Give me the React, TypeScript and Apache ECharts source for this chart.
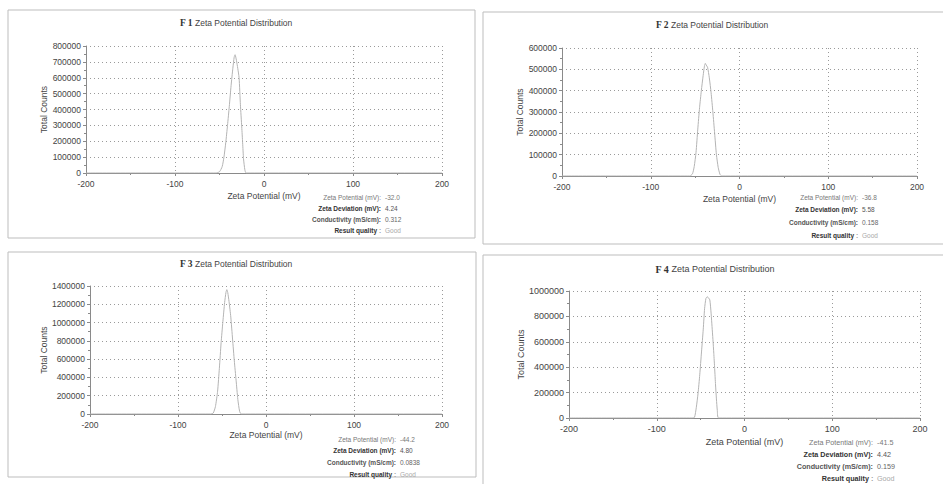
import React, { useEffect, useRef } from "react";
import * as echarts from "echarts";

// ---- data (mV vs. total counts) ----
const zetaF1 = [-200, -54, -50, -47, -45, -43, -41, -39, -37, -35, -33.5, -32.5, -31, -29.5, -28, -26.5, -25, -24, -23, -21.5, -20, 200];
const countsF1 = [0, 0, 8000, 40000, 100000, 190000, 300000, 420000, 550000, 660000, 730000, 745000, 710000, 660000, 600000, 430000, 290000, 190000, 90000, 20000, 0, 0];

const zetaF2 = [-200, -56, -53, -51, -49, -47, -45, -43, -41, -39.5, -38.5, -37.5, -36, -34, -32, -30, -28, -26, -24, -22, -20, 200];
const countsF2 = [0, 0, 10000, 45000, 110000, 220000, 320000, 400000, 470000, 515000, 528000, 520000, 510000, 460000, 390000, 300000, 200000, 100000, 40000, 8000, 0, 0];

const zetaF3 = [-200, -63, -60, -57.5, -55, -53, -51, -49, -47, -45.5, -44.5, -43.5, -42, -40, -38, -36, -34, -32, -30, -28, 200];
const countsF3 = [0, 0, 10000, 80000, 250000, 500000, 780000, 1010000, 1220000, 1330000, 1360000, 1330000, 1230000, 1060000, 820000, 580000, 370000, 160000, 30000, 0, 0];

const zetaF4 = [-200, -60, -57, -55, -53, -51, -49, -47, -45.5, -44, -42.5, -41, -39.5, -38, -37, -36, -35, -34, -33, -32, -31, -29.5, 200];
const countsF4 = [0, 0, 5000, 80000, 190000, 340000, 520000, 700000, 860000, 940000, 955000, 945000, 930000, 820000, 720000, 620000, 510000, 390000, 260000, 150000, 60000, 0, 0];

const panelNames = ["F 1", "F 2", "F 3", "F 4"];
const yMaxes = [800000, 600000, 1400000, 1000000];
const yIntervals = [100000, 100000, 200000, 200000];
const xTicks = { min: -200, max: 200, interval: 100 };

const statLabels = ["Zeta Potential (mV):", "Zeta Deviation (mV):", "Conductivity (mS/cm):", "Result quality"];
const statsF1 = ["-32.0", "4.24", "0.312", "Good"];
const statsF2 = ["-36.8", "5.58", "0.158", "Good"];
const statsF3 = ["-44.2", "4.80", "0.0838", "Good"];
const statsF4 = ["-41.5", "4.42", "0.159", "Good"];

const zetas = [zetaF1, zetaF2, zetaF3, zetaF4];
const counts = [countsF1, countsF2, countsF3, countsF4];
const stats = [statsF1, statsF2, statsF3, statsF4];

// ---- layout (positions / sizes) ----
const layout = [
  { grid: { left: 86, top: 46, width: 356, height: 127 }, yGap: 37, xGap: 18, border: [8, 10, 467, 228], title: [236, 23], stat: { end: 381, val: 385, rows: [197, 208, 219, 230], fs: 6.5 }, fs: 8.5 },
  { grid: { left: 562, top: 48, width: 355, height: 128 }, yGap: 36, xGap: 18, border: [483, 12, 470, 232], title: [712, 25], stat: { end: 858, val: 862, rows: [197, 209.5, 222, 235], fs: 6.5 }, fs: 8.5 },
  { grid: { left: 90, top: 286, width: 352, height: 128 }, yGap: 42, xGap: 16, border: [8, 252, 468, 225], title: [236, 264], stat: { end: 396, val: 400, rows: [439, 450.5, 462, 474], fs: 6.5 }, fs: 8.5 },
  { grid: { left: 569, top: 291, width: 351, height: 127 }, yGap: 41, xGap: 19, border: [483, 255, 470, 232], title: [715, 269], stat: { end: 873, val: 877, rows: [442, 454, 466, 478.5], fs: 7.2 }, fs: 9 },
];

const SANS = "'Liberation Sans', Arial, sans-serif";
const SERIF = "'Liberation Serif', 'Times New Roman', serif";
const AXIS = "#8a8a8a";

export default function App() {
  const ref = useRef<HTMLDivElement>(null);
  useEffect(() => {
    if (!ref.current) return;
    const chart = echarts.init(ref.current, undefined, { renderer: "svg" });

    const grids = layout.map((l) => l.grid);
    const xAxes = layout.map((l, i) => ({
      type: "value",
      gridIndex: i,
      min: xTicks.min,
      max: xTicks.max,
      interval: xTicks.interval,
      name: "Zeta Potential (mV)",
      nameLocation: "middle",
      nameGap: l.xGap,
      nameTextStyle: { fontFamily: SANS, fontSize: l.fs, color: "#444" },
      axisLine: { show: true, onZero: false, lineStyle: { color: AXIS, width: 1 } },
      axisTick: { show: true, length: 3, lineStyle: { color: AXIS } },
      minorTick: { show: true, splitNumber: 2, length: 2, lineStyle: { color: AXIS } },
      axisLabel: { fontFamily: SANS, fontSize: l.fs, color: "#444", margin: 6, formatter: (v: number) => String(v) },
      splitLine: { show: true, lineStyle: { color: "#9a9a9a", type: [1, 3], width: 1 } },
    }));
    const yAxes = layout.map((l, i) => ({
      type: "value",
      gridIndex: i,
      min: 0,
      max: yMaxes[i],
      interval: yIntervals[i],
      name: "Total Counts",
      nameLocation: "middle",
      nameGap: l.yGap,
      nameTextStyle: { fontFamily: SANS, fontSize: l.fs, color: "#444" },
      axisLine: { show: true, onZero: false, lineStyle: { color: AXIS, width: 1 } },
      axisTick: { show: true, length: 3, lineStyle: { color: AXIS } },
      minorTick: { show: true, splitNumber: 2, length: 2, lineStyle: { color: AXIS } },
      axisLabel: { fontFamily: SANS, fontSize: l.fs, color: "#444", margin: 5, formatter: (v: number) => String(v) },
      splitLine: { show: true, lineStyle: { color: "#9a9a9a", type: [1, 3], width: 1 } },
    }));
    const series = zetas.map((zs, i) => ({
      type: "line",
      xAxisIndex: i,
      yAxisIndex: i,
      data: zs.map((z, k) => [z, counts[i][k]]),
      showSymbol: false,
      smooth: 0.2,
      lineStyle: { color: "#b4b4b4", width: 1 },
      silent: true,
    }));

    const graphics: any[] = [];
    layout.forEach((l, i) => {
      const [bx, by, bw, bh] = l.border;
      graphics.push({
        type: "rect",
        shape: { x: bx, y: by, width: bw, height: bh },
        style: { fill: "none", stroke: "#bdbdbd", lineWidth: 1 },
        silent: true,
      });
      graphics.push({
        type: "text",
        x: l.title[0],
        y: l.title[1],
        style: {
          text: `{b|${panelNames[i]}} Zeta Potential Distribution`,
          fontFamily: SANS,
          fontSize: l.fs,
          fill: "#444",
          align: "center",
          verticalAlign: "middle",
          rich: {
            b: { fontFamily: SERIF, fontWeight: "bold", fontSize: l.fs + 1, fill: "#333" },
          },
        },
        silent: true,
      });
      const s = l.stat;
      const labelW = ["normal", "bold", "bold", "bold"];
      const labelC = ["#777", "#333", "#555", "#333"];
      const valC = ["#777", "#555", "#666", "#aaa"];
      statLabels.forEach((lab, r) => {
        const last = r === 3;
        graphics.push({
          type: "text",
          x: last ? s.end - 4 : s.end,
          y: s.rows[r],
          style: {
            text: lab,
            fontFamily: SANS,
            fontSize: s.fs,
            fontWeight: labelW[r],
            fill: labelC[r],
            align: "right",
            verticalAlign: "middle",
          },
          silent: true,
        });
        if (last) {
          graphics.push({
            type: "text",
            x: s.end - 2,
            y: s.rows[r],
            style: { text: ":", fontFamily: SANS, fontSize: s.fs, fontWeight: "bold", fill: "#999", align: "left", verticalAlign: "middle" },
            silent: true,
          });
        }
        graphics.push({
          type: "text",
          x: s.val,
          y: s.rows[r],
          style: {
            text: stats[i][r],
            fontFamily: SANS,
            fontSize: s.fs,
            fill: valC[r],
            align: "left",
            verticalAlign: "middle",
          },
          silent: true,
        });
      });
    });

    chart.setOption({
      animation: false,
      backgroundColor: "#ffffff",
      grid: grids,
      xAxis: xAxes,
      yAxis: yAxes,
      series,
      graphic: graphics,
    });
    return () => chart.dispose();
  }, []);

  return (
    <div
      ref={ref}
      style={{ position: "absolute", left: 0, top: 0, width: 943, height: 484 }}
    />
  );
}
